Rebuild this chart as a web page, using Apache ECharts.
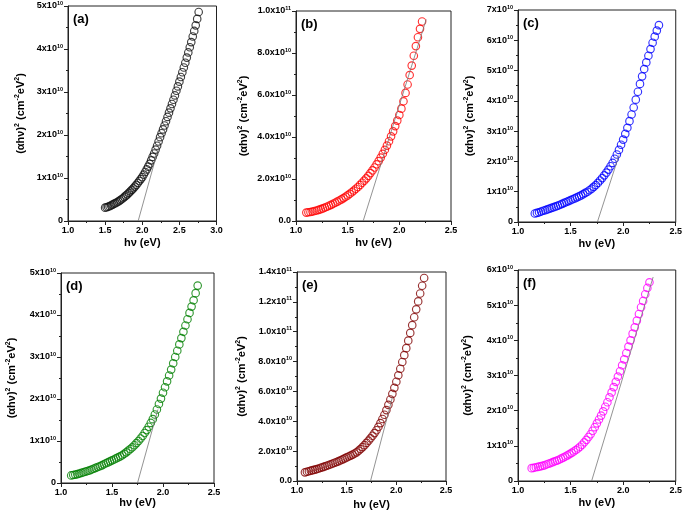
<!DOCTYPE html>
<html>
<head>
<meta charset="utf-8">
<script src="https://cdn.jsdelivr.net/npm/echarts@6/dist/echarts.min.js"></script>
<style>html,body{margin:0;padding:0;background:#fff}#c{width:685px;height:516px}</style>
</head>
<body>
<div id="c"></div>
<script>
// y values in units of 1e10 (cm^-2 eV^2), x in eV
const dataA = [[1.50,0.31],[1.52,0.32],[1.54,0.33],[1.56,0.345],[1.58,0.36],[1.60,0.38],[1.62,0.40],[1.64,0.415],[1.66,0.435],[1.68,0.455],[1.70,0.48],[1.72,0.505],[1.74,0.53],[1.76,0.56],[1.78,0.59],[1.80,0.62],[1.82,0.655],[1.84,0.69],[1.86,0.725],[1.88,0.76],[1.90,0.80],[1.92,0.84],[1.94,0.885],[1.96,0.93],[1.98,0.975],[2.00,1.02],[2.02,1.08],[2.04,1.14],[2.06,1.20],[2.08,1.265],[2.10,1.33],[2.12,1.41],[2.14,1.49],[2.16,1.57],[2.18,1.66],[2.20,1.75],[2.22,1.85],[2.24,1.95],[2.26,2.04],[2.28,2.13],[2.30,2.22],[2.32,2.32],[2.34,2.42],[2.36,2.52],[2.38,2.62],[2.40,2.72],[2.42,2.82],[2.44,2.92],[2.46,3.03],[2.48,3.13],[2.50,3.24],[2.52,3.35],[2.54,3.46],[2.56,3.57],[2.58,3.68],[2.60,3.80],[2.62,3.92],[2.64,4.04],[2.66,4.16],[2.68,4.29],[2.70,4.42],[2.72,4.55],[2.74,4.70],[2.76,4.86]];
const dataB = [[1.10,0.40],[1.12,0.415],[1.14,0.43],[1.16,0.45],[1.18,0.475],[1.20,0.50],[1.22,0.53],[1.24,0.565],[1.26,0.60],[1.28,0.64],[1.30,0.68],[1.32,0.725],[1.34,0.77],[1.36,0.82],[1.38,0.87],[1.40,0.92],[1.42,0.975],[1.44,1.03],[1.46,1.09],[1.48,1.155],[1.50,1.22],[1.52,1.295],[1.54,1.37],[1.56,1.45],[1.58,1.535],[1.60,1.62],[1.62,1.72],[1.64,1.82],[1.66,1.92],[1.68,2.03],[1.70,2.15],[1.72,2.28],[1.74,2.41],[1.76,2.55],[1.78,2.70],[1.80,2.85],[1.82,3.02],[1.84,3.20],[1.86,3.39],[1.88,3.59],[1.90,3.80],[1.92,4.03],[1.94,4.27],[1.96,4.52],[1.98,4.78],[2.00,5.05],[2.02,5.35],[2.04,5.70],[2.06,6.10],[2.08,6.50],[2.10,6.95],[2.12,7.40],[2.14,7.87],[2.16,8.33],[2.18,8.75],[2.20,9.15],[2.22,9.50]];
const dataC = [[1.16,0.28],[1.18,0.30],[1.20,0.32],[1.22,0.345],[1.24,0.37],[1.26,0.39],[1.28,0.415],[1.30,0.44],[1.32,0.465],[1.34,0.49],[1.36,0.515],[1.38,0.54],[1.40,0.57],[1.42,0.60],[1.44,0.63],[1.46,0.66],[1.48,0.69],[1.50,0.72],[1.52,0.75],[1.54,0.78],[1.56,0.815],[1.58,0.845],[1.60,0.88],[1.62,0.92],[1.64,0.96],[1.66,1.00],[1.68,1.05],[1.70,1.10],[1.72,1.16],[1.74,1.22],[1.76,1.29],[1.78,1.37],[1.80,1.45],[1.82,1.54],[1.84,1.63],[1.86,1.73],[1.88,1.84],[1.90,1.95],[1.92,2.09],[1.94,2.23],[1.96,2.38],[1.98,2.55],[2.00,2.72],[2.02,2.91],[2.04,3.11],[2.06,3.33],[2.08,3.55],[2.10,3.78],[2.12,4.04],[2.14,4.30],[2.16,4.56],[2.18,4.81],[2.20,5.05],[2.22,5.27],[2.24,5.49],[2.26,5.71],[2.28,5.92],[2.30,6.12],[2.32,6.32],[2.34,6.50]];
const dataD = [[1.10,0.18],[1.12,0.19],[1.14,0.20],[1.16,0.21],[1.18,0.225],[1.20,0.24],[1.22,0.255],[1.24,0.27],[1.26,0.285],[1.28,0.30],[1.30,0.32],[1.32,0.34],[1.34,0.36],[1.36,0.38],[1.38,0.40],[1.40,0.42],[1.42,0.445],[1.44,0.47],[1.46,0.49],[1.48,0.515],[1.50,0.54],[1.52,0.56],[1.54,0.585],[1.56,0.61],[1.58,0.635],[1.60,0.66],[1.62,0.695],[1.64,0.73],[1.66,0.77],[1.68,0.81],[1.70,0.85],[1.72,0.90],[1.74,0.95],[1.76,1.00],[1.78,1.06],[1.80,1.12],[1.82,1.19],[1.84,1.26],[1.86,1.34],[1.88,1.43],[1.90,1.52],[1.92,1.63],[1.94,1.75],[1.96,1.88],[1.98,2.01],[2.00,2.15],[2.02,2.28],[2.04,2.42],[2.06,2.56],[2.08,2.70],[2.10,2.85],[2.12,3.00],[2.14,3.15],[2.16,3.30],[2.18,3.45],[2.20,3.60],[2.22,3.75],[2.24,3.90],[2.26,4.05],[2.28,4.20],[2.30,4.35],[2.32,4.52],[2.34,4.70]];
const dataE = [[1.08,0.58],[1.10,0.62],[1.12,0.655],[1.14,0.69],[1.16,0.725],[1.18,0.76],[1.20,0.80],[1.22,0.84],[1.24,0.885],[1.26,0.93],[1.28,0.975],[1.30,1.02],[1.32,1.07],[1.34,1.12],[1.36,1.17],[1.38,1.22],[1.40,1.27],[1.42,1.33],[1.44,1.39],[1.46,1.45],[1.48,1.515],[1.50,1.58],[1.52,1.64],[1.54,1.70],[1.56,1.77],[1.58,1.84],[1.60,1.92],[1.62,2.03],[1.64,2.14],[1.66,2.27],[1.68,2.40],[1.70,2.55],[1.72,2.70],[1.74,2.86],[1.76,3.03],[1.78,3.21],[1.80,3.40],[1.82,3.63],[1.84,3.88],[1.86,4.15],[1.88,4.44],[1.90,4.75],[1.92,5.10],[1.94,5.46],[1.96,5.84],[1.98,6.24],[2.00,6.65],[2.02,7.08],[2.04,7.52],[2.06,7.97],[2.08,8.43],[2.10,8.90],[2.12,9.40],[2.14,9.92],[2.16,10.44],[2.18,10.97],[2.20,11.50],[2.22,12.03],[2.24,12.56],[2.26,13.08],[2.28,13.60]];
const dataF = [[1.13,0.365],[1.15,0.375],[1.17,0.39],[1.19,0.40],[1.21,0.415],[1.23,0.43],[1.25,0.445],[1.27,0.47],[1.29,0.49],[1.31,0.51],[1.33,0.535],[1.35,0.56],[1.37,0.58],[1.39,0.605],[1.41,0.635],[1.43,0.665],[1.45,0.695],[1.47,0.73],[1.49,0.765],[1.51,0.80],[1.53,0.84],[1.55,0.88],[1.57,0.925],[1.59,0.975],[1.61,1.03],[1.63,1.10],[1.65,1.17],[1.67,1.25],[1.69,1.33],[1.71,1.43],[1.73,1.53],[1.75,1.64],[1.77,1.75],[1.79,1.86],[1.81,1.98],[1.83,2.11],[1.85,2.24],[1.87,2.38],[1.89,2.52],[1.91,2.67],[1.93,2.82],[1.95,2.97],[1.97,3.12],[1.99,3.29],[2.01,3.46],[2.03,3.64],[2.05,3.82],[2.07,4.00],[2.09,4.19],[2.11,4.37],[2.13,4.56],[2.15,4.75],[2.17,4.94],[2.19,5.12],[2.21,5.31],[2.23,5.49],[2.25,5.65]];

// tangent (extrapolation) lines
const tanA = [[1.945,0],[2.235,1.80]];
const tanB = [[1.65,0],[2.26,9.6]];
const tanC = [[1.755,0],[1.96,2.2]];
const tanD = [[1.75,0],[1.95,1.75]];
const tanE = [[1.74,0],[1.96,5.6]];
const tanF = [[1.70,0],[2.285,5.8]];

const panelLabels = ['(a)','(b)','(c)','(d)','(e)','(f)'];
const xTicks = {a:[1.0,3.0,0.5], other:[1.0,2.5,0.5]};
const yRanges = [[5,1],[10,2],[7,1],[5,1],[14,2],[6,1]];
const colors = ['#111111','#ff0000','#0000ff','#008000','#800000','#ff00ff'];

const layout = [
  {left:68, top:6, width:148.5, height:215, yGap:41, xGap:16},
  {left:296, top:11, width:155, height:210, yGap:46, xGap:16},
  {left:518, top:10, width:158, height:212, yGap:42, xGap:16},
  {left:61, top:273, width:153, height:210, yGap:43, xGap:14},
  {left:297, top:272, width:149, height:209, yGap:49, xGap:18},
  {left:518, top:270, width:160, height:211, yGap:44, xGap:16}
];
const datasets = [dataA,dataB,dataC,dataD,dataE,dataF];
const tangents = [tanA,tanB,tanC,tanD,tanE,tanF];
const decFmt = [false,true,false,false,true,false];

const FONT = 'Liberation Sans, Arial, sans-serif';
const rich = {
  b:{fontSize:9, fontWeight:'bold', fontFamily:FONT, color:'#000', lineHeight:12},
  s:{fontSize:5.5, fontWeight:'bold', fontFamily:FONT, color:'#000', verticalAlign:'top', lineHeight:12, padding:[0,0,5,0]}
};
const nameRich = {
  n:{fontSize:11, fontWeight:'bold', fontFamily:FONT, color:'#000'},
  s:{fontSize:7, fontWeight:'bold', fontFamily:FONT, color:'#000', padding:[0,0,6,0]}
};

function yFmt(dec){
  return function(v){
    if (v === 0) return '{b|' + (dec ? '0.0' : '0') + '}';
    if (dec) {
      if (v >= 10) return '{b|' + (v/10).toFixed(1) + 'x10}{s|11}';
      return '{b|' + v.toFixed(1) + 'x10}{s|10}';
    }
    return '{b|' + v + 'x10}{s|10}';
  };
}

const grid = [], xAxis = [], yAxis = [], series = [], graphic = [];
for (let i = 0; i < 6; i++) {
  const L = layout[i];
  grid.push({left:L.left, top:L.top, width:L.width, height:L.height, show:true, borderColor:'#222', borderWidth:1, backgroundColor:'transparent'});
  const xt = i === 0 ? xTicks.a : xTicks.other;
  xAxis.push({
    type:'value', gridIndex:i, min:xt[0], max:xt[1], interval:xt[2],
    name:'h\u03bd (eV)', nameLocation:'middle', nameGap:L.xGap,
    nameTextStyle:{fontSize:11, fontWeight:'bold', fontFamily:FONT, color:'#000'},
    axisLine:{show:true, lineStyle:{color:'#222', width:1}},
    axisTick:{show:true, inside:false, length:4, lineStyle:{color:'#222'}},
    minorTick:{show:true, splitNumber:2, length:2, lineStyle:{color:'#222'}},
    splitLine:{show:false},
    axisLabel:{fontSize:9, fontWeight:'bold', fontFamily:FONT, color:'#000', margin:5, formatter:v=>v.toFixed(1), showMinLabel:true, showMaxLabel:true}
  });
  yAxis.push({
    type:'value', gridIndex:i, min:0, max:yRanges[i][0], interval:yRanges[i][1],
    name:'{n|(\u03b1h\u03bd)}{s|2}{n| (cm}{s|-2}{n|eV}{s|2}{n|)}', nameLocation:'middle', nameGap:L.yGap,
    nameTextStyle:{fontSize:11, fontWeight:'bold', fontFamily:FONT, color:'#000', rich:nameRich},
    axisLine:{show:true, lineStyle:{color:'#222', width:1}},
    axisTick:{show:true, inside:false, length:4, lineStyle:{color:'#222'}},
    minorTick:{show:true, splitNumber:2, length:2, lineStyle:{color:'#222'}},
    splitLine:{show:false},
    axisLabel:{margin:5, formatter:yFmt(decFmt[i]), rich:rich, showMinLabel:true, showMaxLabel:true}
  });
  series.push({
    type:'scatter', xAxisIndex:i, yAxisIndex:i, data:datasets[i],
    symbol:'circle', symbolSize:7.5,
    itemStyle:{color:'rgba(255,255,255,0)', borderColor:colors[i], borderWidth:1.15},
    emphasis:{disabled:true}, silent:true
  });
  series.push({
    type:'line', xAxisIndex:i, yAxisIndex:i, data:tangents[i],
    symbol:'none', lineStyle:{color:'#777', width:0.8}, silent:true, z:3
  });
  graphic.push({
    type:'text', x:L.left + 5, y:L.top + 13,
    style:{text:panelLabels[i], font:'bold 13px ' + FONT, fill:'#000', verticalAlign:'middle'}
  });
}

const chart = echarts.init(document.getElementById('c'), null, {renderer:'canvas'});
chart.setOption({animation:false, backgroundColor:'#fff', grid, xAxis, yAxis, series, graphic});
</script>
</body>
</html>
